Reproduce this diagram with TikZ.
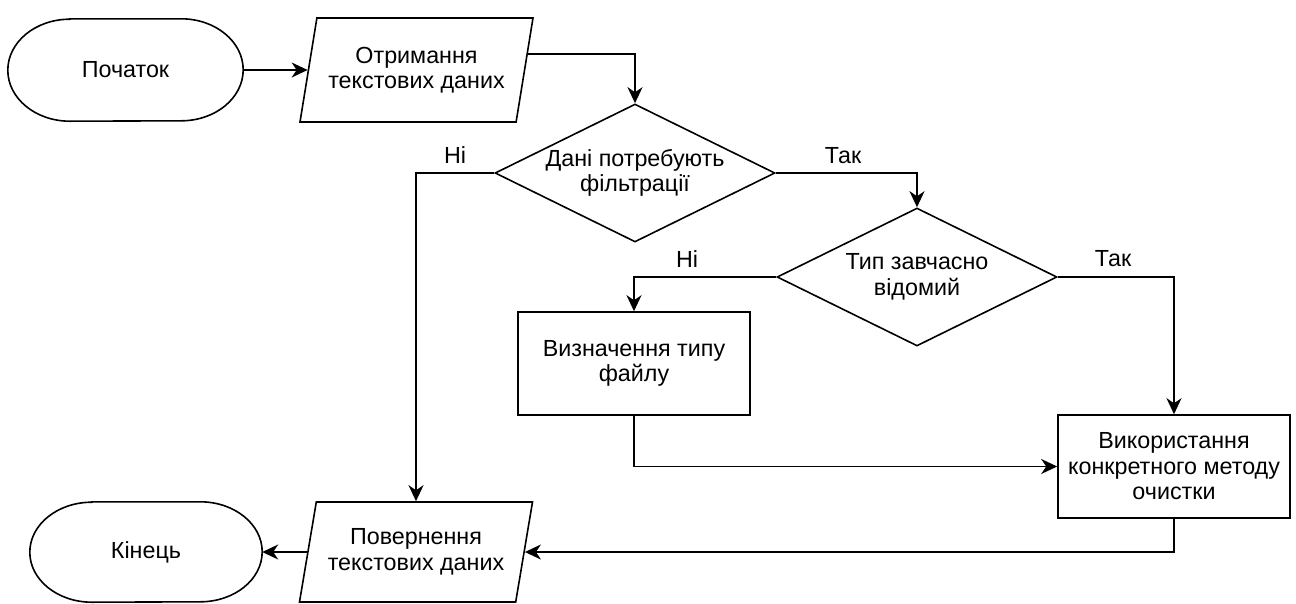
\documentclass[tikz,border=0pt]{standalone}
\usepackage{fontspec}
\setmainfont{Liberation Sans}
\usetikzlibrary{shapes.geometric,arrows.meta,calc}
\begin{document}
\begin{tikzpicture}[x=1pt,y=1pt,
  font=\fontsize{23.3}{25.5}\selectfont,
  line/.style={line width=1.6pt, draw=black},
  arr/.style={line, -{Stealth[length=16pt,width=15pt,inset=5pt]}},
  termbox/.style={rectangle, draw=none, minimum width=235pt, minimum height=102pt, inner sep=0pt, align=center},
  iobox/.style={trapezium, line, trapezium left angle=70, trapezium right angle=110, trapezium stretches body, minimum width=233pt, minimum height=104pt, inner sep=0pt, align=center},
  decbox/.style={diamond, line, aspect=2.03, minimum width=280pt, minimum height=138pt, inner sep=0pt, align=center},
  procbox/.style={rectangle, line, minimum width=232pt, minimum height=103pt, inner sep=0pt, align=center},
  lbl/.style={inner sep=0pt}
]
\useasboundingbox (0,0) rectangle (1296,-603);

% nodes
\node[termbox] (start) at (125.5,-70) {Початок};
\node[iobox] (p1) at (416.5,-70) {Отримання\\текстових даних};
\node[decbox] (d1) at (635,-173) {Дані потребують\\фільтрації};
\node[decbox] (d2) at (917,-277) {Тип завчасно\\відомий};
\node[procbox] (r1) at (634,-363.5) {Визначення типу\\файлу};
\node[procbox] (r2) at (1174,-466.5) {Використання\\конкретного методу\\очистки};
\node[iobox, minimum height=100pt] (p2) at (416,-552) {Повернення\\текстових даних};
\node[termbox, minimum width=232pt, minimum height=100pt] (end) at (146,-552) {Кінець};

% terminal outlines
\draw[line] ([xshift=62pt]start.north west) -- ([xshift=-62pt]start.north east)
  arc[start angle=90, end angle=-90, x radius=62pt, y radius=51pt]
  -- ([xshift=62pt]start.south west)
  arc[start angle=270, end angle=90, x radius=62pt, y radius=51pt] -- cycle;
\draw[line] ([xshift=62pt]end.north west) -- ([xshift=-62pt]end.north east)
  arc[start angle=90, end angle=-90, x radius=62pt, y radius=50pt]
  -- ([xshift=62pt]end.south west)
  arc[start angle=270, end angle=90, x radius=62pt, y radius=50pt] -- cycle;

% labels
\node[lbl] (l1) at (455,-155) {Ні};
\node[lbl] (l2) at (843,-156) {Так};
\node[lbl] (l3) at (687,-259) {Ні};
\node[lbl] (l4) at (1113,-259) {Так};

% connectors
\coordinate (p1out) at ($(p1.top right corner)!0.346!(p1.bottom right corner)$);
\coordinate (p2in) at (p2.center |- p2.top left corner);
\draw[arr] (start.east) -- (p1.west);
\draw[arr] (p1out) -| (d1.north);
\draw[arr] (d1.west) -| (p2in);
\draw[arr] (d1.east) -| (d2.north);
\draw[arr] (d2.west) -| (r1.north);
\draw[arr] (d2.east) -| (r2.north);
\draw[arr] (r1.south) |- (r2.west);
\draw[arr] (r2.south) |- (p2.east);
\draw[arr] (p2.west) -- (end.east);
\end{tikzpicture}
\end{document}
